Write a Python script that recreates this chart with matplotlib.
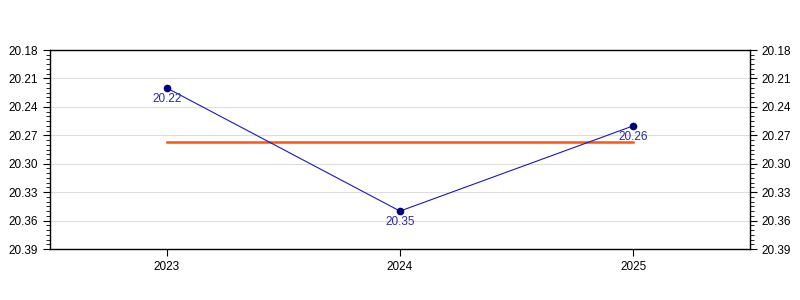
import numpy as np
import matplotlib.pyplot as plt
from matplotlib.ticker import MultipleLocator

# data
years = [2023, 2024, 2025]
values = [20.22, 20.35, 20.26]
mean_value = np.mean(values)
y_ticks = [20.18, 20.21, 20.24, 20.27, 20.30, 20.33, 20.36, 20.39]

plt.rcParams['font.family'] = ['Liberation Sans', 'DejaVu Sans']

fig = plt.figure(figsize=(8, 3), dpi=100)
ax = fig.add_axes([0.0625, 0.17, 0.875, 0.6633])

ax.yaxis.grid(True, color='#dddddd', linewidth=0.8)
ax.set_axisbelow(True)

ax.plot(years, values, color='#1a1ab8', linewidth=0.8, zorder=3)
ax.plot(years, values, 'o', color='#000080', markersize=4.5, zorder=4)
ax.plot([years[0], years[-1]], [mean_value, mean_value], color='#ff5511', linewidth=1.8, zorder=2)

for x, v in zip(years, values):
    ax.annotate('{0:.2f}'.format(v), (x, v), xytext=(0, -3.5), textcoords='offset points',
                ha='center', va='top', fontsize=8.5, color='#2a2aa0', zorder=5)

ax.set_xlim(2022.5, 2025.5)
ax.set_xticks(years)
ax.set_xticklabels([str(y) for y in years])
ax.set_ylim(y_ticks[-1], y_ticks[0])
ax.set_yticks(y_ticks)
ax.set_yticklabels(['{0:.2f}'.format(t) for t in y_ticks])
ax.yaxis.set_minor_locator(MultipleLocator(0.005))

ax.tick_params(axis='y', which='both', left=True, right=True, labelleft=True, labelright=True,
               direction='out', labelsize=8.5)
ax.tick_params(axis='y', which='major', length=5)
ax.tick_params(axis='y', which='minor', length=3)
ax.tick_params(axis='x', length=5, labelsize=8.5)

for s in ax.spines.values():
    s.set_linewidth(1)

fig.savefig('out.png', dpi=100)
